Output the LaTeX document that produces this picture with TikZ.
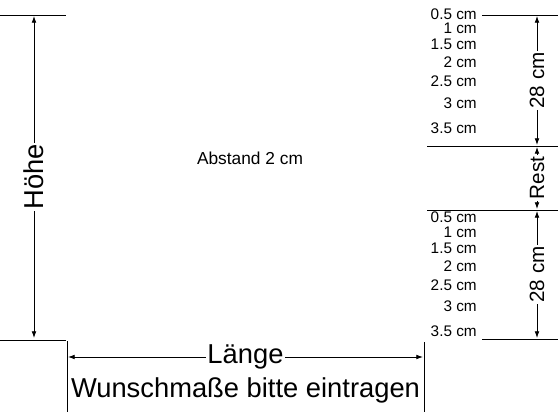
\documentclass[tikz,border=0pt]{standalone}
\usepackage{fontspec}
\setmainfont{Liberation Sans}
\usetikzlibrary{arrows.meta}
\tikzset{
  mass/.style={line width=0.6pt, {Latex[length=5pt,width=3.5pt]}-{Latex[length=5pt,width=3.5pt]}},
  grenze/.style={line width=0.6pt},
  gross/.style={font=\fontsize{20.5}{24}\selectfont, fill=white, inner sep=1pt},
  mittel/.style={font=\fontsize{15.5}{18}\selectfont, fill=white, inner sep=1pt, rotate=90},
  wert/.style={font=\fontsize{11.5}{13}\selectfont, anchor=east, inner sep=0pt},
}
\begin{document}
\begin{tikzpicture}
[x=0.75pt, y=-0.75pt]
\useasboundingbox (0,0) rectangle (560,420);
% links: Hoehe
\coordinate (hl1) at (0,15);
\coordinate (hr1) at (66,15);
\coordinate (hl2) at (0,340);
\coordinate (hr2) at (66,340);
\draw [grenze] (hl1) -- (hr1);
\draw [grenze] (hl2) -- (hr2);
\coordinate (ho) at (34,16);
\coordinate (hu) at (34,338);
\draw [mass] (ho) -- node[gross, rotate=90] {Höhe} (hu);
% unten: Laenge
\coordinate (lo1) at (67,341);
\coordinate (lu1) at (67,412);
\coordinate (lo2) at (424,342);
\coordinate (lu2) at (424,412);
\draw [grenze] (lo1) -- (lu1);
\draw [grenze] (lo2) -- (lu2);
\coordinate (ll) at (68,357);
\coordinate (lr) at (423,357);
\draw [mass] (ll) -- node[gross] {Länge} (lr);
\node [gross, fill=none] (wunsch) at (245.5,390) {Wunschmaße bitte eintragen};
\node [font=\fontsize{13}{15}\selectfont] (abstand) at (250,158) {Abstand 2 cm};
% rechts: Werte
\foreach \y/\t [count=\i] in {14.5/0.5 cm,28.5/1 cm,44/1.5 cm,62/2 cm,81/2.5 cm,103/3 cm,128/3.5 cm}
  \node [wert] (a\i) at (477,\y) {\t};
\foreach \y/\t [count=\i] in {217.5/0.5 cm,232.5/1 cm,248/1.5 cm,266/2 cm,285/2.5 cm,306/3 cm,331/3.5 cm}
  \node [wert] (b\i) at (477,\y) {\t};
\coordinate (r1l) at (482,15);   \coordinate (r1r) at (558,15);
\coordinate (r2l) at (427,146);  \coordinate (r2r) at (558,146);
\coordinate (r3l) at (427,210);  \coordinate (r3r) at (558,210);
\coordinate (r4l) at (482,339);  \coordinate (r4r) at (558,339);
\draw [grenze] (r1l) -- (r1r);
\draw [grenze] (r2l) -- (r2r);
\draw [grenze] (r3l) -- (r3r);
\draw [grenze] (r4l) -- (r4r);
\coordinate (m1) at (537,16);
\coordinate (m2) at (537,145);
\coordinate (m3) at (537,147);
\coordinate (m4) at (537,209);
\coordinate (m5) at (537,211);
\coordinate (m6) at (537,338);
\draw [mass] (m1) -- node[mittel] {28 cm} (m2);
\draw [mass] (m3) -- node[mittel] {Rest} (m4);
\draw [mass] (m5) -- node[mittel] {28 cm} (m6);
\end{tikzpicture}
\end{document}
